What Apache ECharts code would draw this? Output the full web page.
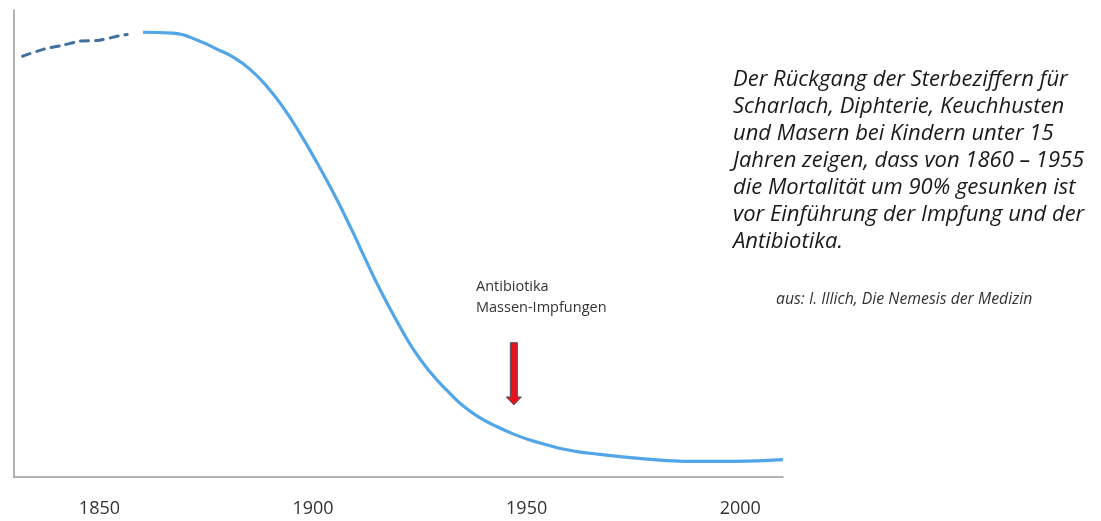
<!DOCTYPE html>
<html>
<head>
<meta charset="utf-8">
<script src="https://cdn.jsdelivr.net/npm/echarts@6/dist/echarts.min.js"></script>
<style>
  html, body { margin: 0; padding: 0; background: #fff; }
  #chart { width: 1101px; height: 521px; }
</style>
</head>
<body>
<div id="chart"></div>
<script>
// ---- data ----
const xTickYears = [1850, 1900, 1950, 2000];

// estimated (dashed) early section
const dashedYears  = [1832, 1837, 1841.5, 1845.5, 1850, 1855, 1856.5];
const dashedValues = [94.6, 96.2, 97.1, 98.0, 98.2, 99.3, 99.5];

// measured mortality decline (index, peak = 100)
const solidYears  = [1860.2, 1867.2, 1873.5, 1877.5, 1881.3, 1885.2, 1889.2, 1893.0, 1896.9, 1900.9, 1904.7, 1908.7, 1912.2, 1915.7, 1919.7, 1923.4, 1927.4, 1931.4, 1935.1, 1939.1, 1943.1, 1946.8, 1950.8, 1954.8, 1958.5, 1962.5, 1967.2, 1974.9, 1982.9, 1990.6, 1998.3, 2010];
const solidValues = [100, 99.8, 98.0, 96.2, 94.4, 91.7, 87.8, 83.1, 77.3, 70.7, 64.0, 56.3, 49.1, 42.1, 34.9, 28.8, 23.6, 19.4, 16.0, 13.3, 11.3, 9.7, 8.3, 7.2, 6.3, 5.6, 5.1, 4.3, 3.7, 3.5, 3.5, 3.9];

// arrow marker: [year, top value, tip value]
const arrowYear = 1947;
const arrowTop = 30.2;
const arrowTip = 16.2;

const annotationText = 'Antibiotika\nMassen-Impfungen';
const infoText = 'Der Rückgang der Sterbeziffern für\nScharlach, Diphterie, Keuchhusten\nund Masern bei Kindern unter 15\nJahren zeigen, dass von 1860 – 1955\ndie Mortalität um 90% gesunken ist\nvor Einführung der Impfung und der\nAntibiotika.';
const sourceText = 'aus: I. Illich, Die Nemesis der Medizin';

// ---- chart ----
const chart = echarts.init(document.getElementById('chart'), null, { renderer: 'canvas' });

const zip = (xs, ys) => xs.map((x, i) => [x, ys[i]]);

chart.setOption({
  backgroundColor: '#ffffff',
  animation: false,
  grid: { left: 14, right: 318, top: 10, bottom: 44, containLabel: false },
  xAxis: {
    type: 'value',
    min: 1830,
    max: 2010,
    axisLine: { show: true, lineStyle: { color: '#9a9a9a', width: 1.5 } },
    axisTick: { show: false },
    splitLine: { show: false },
    axisLabel: {
      customValues: xTickYears,
      formatter: v => String(v),
      margin: 23,
      color: '#333333',
      fontSize: 18,
      fontFamily: '"Open Sans", sans-serif',
      showMinLabel: true,
      showMaxLabel: true
    }
  },
  yAxis: {
    type: 'value',
    min: 0,
    max: 105,
    axisLine: { show: true, onZero: false, lineStyle: { color: '#9a9a9a', width: 1.5 } },
    axisTick: { show: false },
    axisLabel: { show: false },
    splitLine: { show: false }
  },
  series: [
    {
      type: 'line',
      data: zip(dashedYears, dashedValues),
      smooth: 0.3,
      symbol: 'none',
      lineStyle: { color: '#41719c', width: 3, type: [8, 7], cap: 'round' }
    },
    {
      type: 'line',
      data: zip(solidYears, solidValues),
      smooth: 0.5,
      symbol: 'none',
      lineStyle: { color: '#52a5e6', width: 3.2 }
    },
    {
      type: 'custom',
      data: [[arrowYear, arrowTop, arrowTip]],
      renderItem: function (params, api) {
        const top = api.coord([api.value(0), api.value(1)]);
        const tip = api.coord([api.value(0), api.value(2)]);
        const cx = top[0];
        const sw = 3.5, hw = 7.5, hl = 8;
        const headY = tip[1] - hl;
        return {
          type: 'polygon',
          shape: {
            points: [
              [cx - sw, top[1]], [cx + sw, top[1]], [cx + sw, headY],
              [cx + hw, headY], [cx, tip[1]], [cx - hw, headY], [cx - sw, headY]
            ]
          },
          style: { fill: '#e8141b', stroke: '#4a5068', lineWidth: 1 }
        };
      },
      z: 5
    }
  ],
  graphic: [
    {
      type: 'text',
      left: 476,
      top: 276,
      style: {
        text: annotationText,
        fill: '#333333',
        font: '14.5px "Open Sans", sans-serif',
        lineHeight: 21
      }
    },
    {
      type: 'text',
      left: 733,
      top: 66,
      style: {
        text: infoText,
        fill: '#1a1a1a',
        font: 'italic 22px "Open Sans", sans-serif',
        lineHeight: 27
      }
    },
    {
      type: 'text',
      left: 776,
      top: 291,
      style: {
        text: sourceText,
        fill: '#333333',
        font: 'italic 15.8px "Open Sans", sans-serif'
      }
    }
  ]
});
</script>
</body>
</html>
